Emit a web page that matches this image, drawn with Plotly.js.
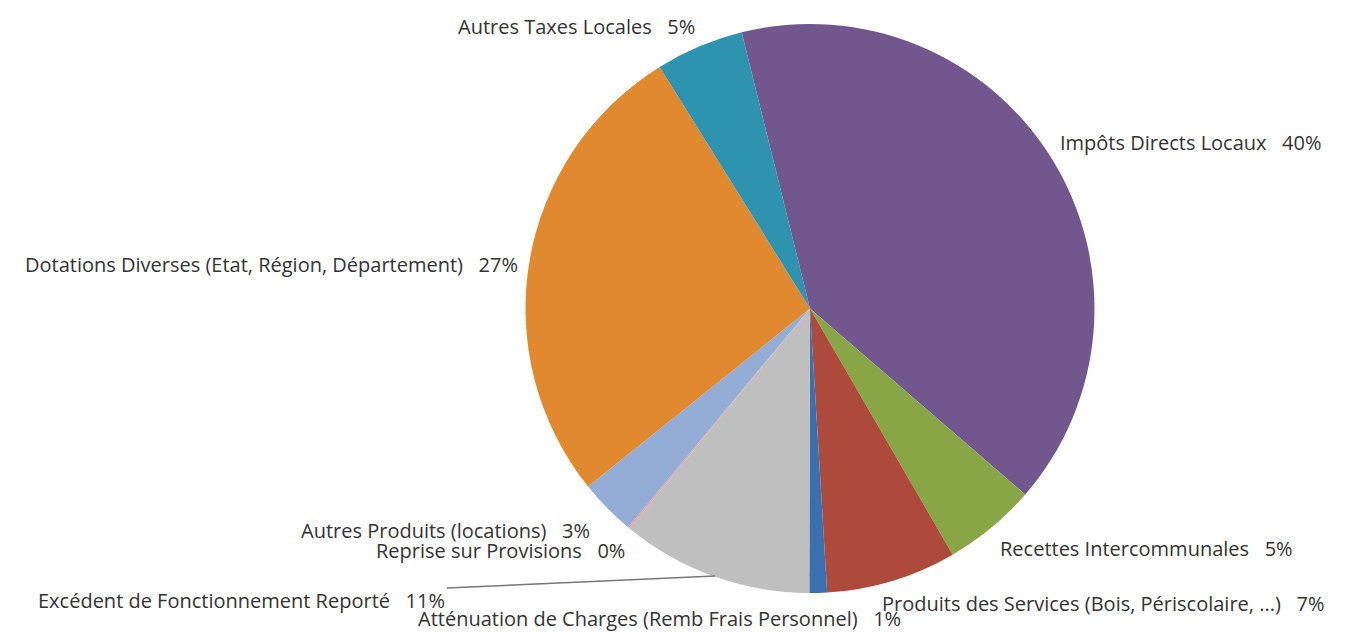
<!DOCTYPE html>
<html>
<head>
<meta charset="utf-8">
<script src="https://cdn.plot.ly/plotly-3.0.1.min.js"></script>
<style>html,body{margin:0;padding:0;background:#fff;}#chart{width:1345px;height:633px;}</style>
</head>
<body>
<div id="chart"></div>
<script>
// Data
var categories = [
  "Impôts Directs Locaux",
  "Recettes Intercommunales",
  "Produits des Services (Bois, Périscolaire, ...)",
  "Atténuation de Charges (Remb Frais Personnel)",
  "Excédent de Fonctionnement Reporté",
  "Reprise sur Provisions",
  "Autres Produits (locations)",
  "Dotations Diverses (Etat, Région, Département)",
  "Autres Taxes Locales"
];
var shares = [40.2, 5.3, 7.4, 1.0, 10.9, 0.1, 3.2, 26.9, 5.0];
var colors = ["#72578E", "#88A645", "#AE4A3B", "#3A6FB0", "#BFBFBF", "#E8A0A0", "#94ADD6", "#E0892F", "#2E93AF"];

// Label placement (pixel positions of the Excel-style labels)
var labelPos = [
  {x: 1058, y: 143, anchor: "left"},
  {x: 998,  y: 548, anchor: "left"},
  {x: 880,  y: 603, anchor: "left"},
  {x: 416,  y: 618, anchor: "left"},
  {x: 447,  y: 600, anchor: "right"},
  {x: 627,  y: 550, anchor: "right"},
  {x: 592,  y: 530, anchor: "right"},
  {x: 520,  y: 265, anchor: "right"},
  {x: 697,  y: 27,  anchor: "right"}
];

var W = 1345, H = 633;
function px(x) { return x / W; }
function py(y) { return 1 - y / H; }

var total = shares.reduce(function (a, b) { return a + b; }, 0);
var annotations = categories.map(function (c, i) {
  var pct = Math.round(shares[i] / total * 100);
  return {
    x: px(labelPos[i].x), y: py(labelPos[i].y),
    xref: "paper", yref: "paper",
    xanchor: labelPos[i].anchor, yanchor: "middle",
    text: c + "   " + pct + "%",
    showarrow: false,
    font: {family: "Open Sans, sans-serif", size: 20, color: "#333333"}
  };
});

var cx = 810, cy = 308.5, r = 284.5;
var data = [{
  type: "pie",
  labels: categories,
  values: shares,
  sort: false,
  direction: "clockwise",
  rotation: -13.9,
  textinfo: "none",
  hoverinfo: "label+percent",
  marker: {colors: colors, line: {width: 0}},
  domain: {x: [px(cx - r), px(cx + r)], y: [py(cy + r), py(cy - r)]}
}];

var layout = {
  width: W, height: H,
  margin: {l: 0, r: 0, t: 0, b: 0},
  showlegend: false,
  paper_bgcolor: "#ffffff",
  annotations: annotations,
  shapes: [{
    type: "line", xref: "paper", yref: "paper",
    x0: px(447), y0: py(588), x1: px(715), y1: py(576),
    line: {color: "#777777", width: 1.5}
  }]
};

Plotly.newPlot("chart", data, layout, {displayModeBar: false, staticPlot: true});
</script>
</body>
</html>
